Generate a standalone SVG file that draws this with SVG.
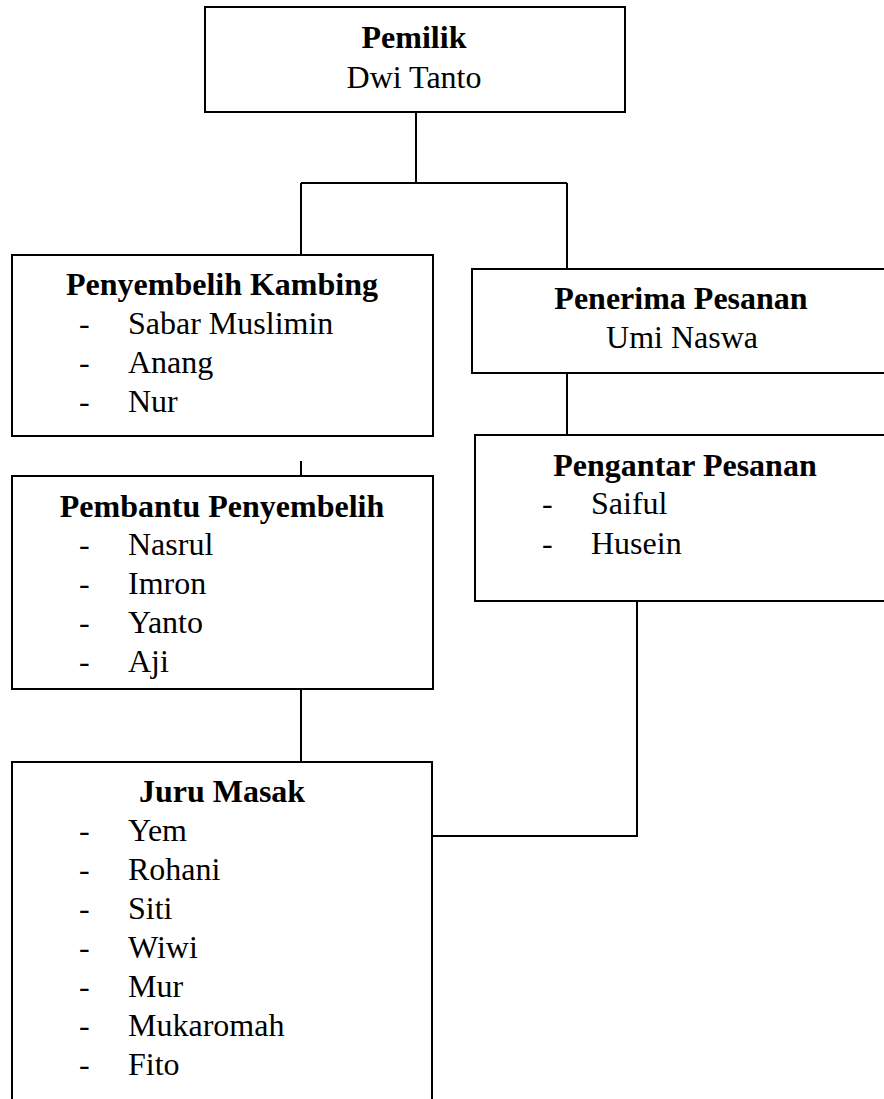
<svg xmlns="http://www.w3.org/2000/svg" width="884" height="1099" viewBox="0 0 884 1099">
<style>
.box{fill:#fff;stroke:#000;stroke-width:2}
.ln{fill:none;stroke:#000;stroke-width:2}
text{font-size:32px;fill:#000}
.h{font-weight:bold;text-anchor:middle}
.c{text-anchor:middle}
</style>
<rect width="884" height="1099" fill="#fff"/>
<g id="connectors">
<path class="ln" d="M416 112V183M301 183H567M301 183V255M567 183V269"/>
<path class="ln" d="M301 461V476"/>
<path class="ln" d="M301 689V762"/>
<path class="ln" d="M567 373V435"/>
<path class="ln" d="M637 601V836H432"/>
</g>
<g font-family="Liberation Serif, Times New Roman, serif">
<g id="pemilik">
<rect class="box" x="205" y="7" width="420" height="105"/>
<text class="h" x="414" y="48">Pemilik</text>
<text class="c" x="414" y="88">Dwi Tanto</text>
</g>
<g id="penyembelih">
<rect class="box" x="12" y="255" width="421" height="181"/>
<text class="h" x="222" y="295">Penyembelih Kambing</text>
<text x="79" y="334">-</text><text x="128" y="334">Sabar Muslimin</text>
<text x="79" y="373">-</text><text x="128" y="373">Anang</text>
<text x="79" y="412">-</text><text x="128" y="412">Nur</text>
</g>
<g id="pembantu">
<rect class="box" x="12" y="476" width="421" height="213"/>
<text class="h" x="222" y="517">Pembantu Penyembelih</text>
<text x="79" y="555">-</text><text x="128" y="555">Nasrul</text>
<text x="79" y="594">-</text><text x="128" y="594">Imron</text>
<text x="79" y="633">-</text><text x="128" y="633">Yanto</text>
<text x="79" y="672">-</text><text x="128" y="672">Aji</text>
</g>
<g id="juru-masak">
<path class="box" d="M12 1110V762H432V1110"/>
<text class="h" x="222" y="802">Juru Masak</text>
<text x="79" y="841">-</text><text x="128" y="841">Yem</text>
<text x="79" y="880">-</text><text x="128" y="880">Rohani</text>
<text x="79" y="919">-</text><text x="128" y="919">Siti</text>
<text x="79" y="958">-</text><text x="128" y="958">Wiwi</text>
<text x="79" y="997">-</text><text x="128" y="997">Mur</text>
<text x="79" y="1036">-</text><text x="128" y="1036">Mukaromah</text>
<text x="79" y="1075">-</text><text x="128" y="1075">Fito</text>
</g>
<g id="penerima">
<rect class="box" x="472" y="269" width="430" height="104"/>
<text class="h" x="681" y="309">Penerima Pesanan</text>
<text class="c" x="682" y="348">Umi Naswa</text>
</g>
<g id="pengantar">
<rect class="box" x="475" y="435" width="430" height="166"/>
<text class="h" x="685" y="476">Pengantar Pesanan</text>
<text x="542" y="514">-</text><text x="591" y="514">Saiful</text>
<text x="542" y="554">-</text><text x="591" y="554">Husein</text>
</g>
</g>
</svg>
